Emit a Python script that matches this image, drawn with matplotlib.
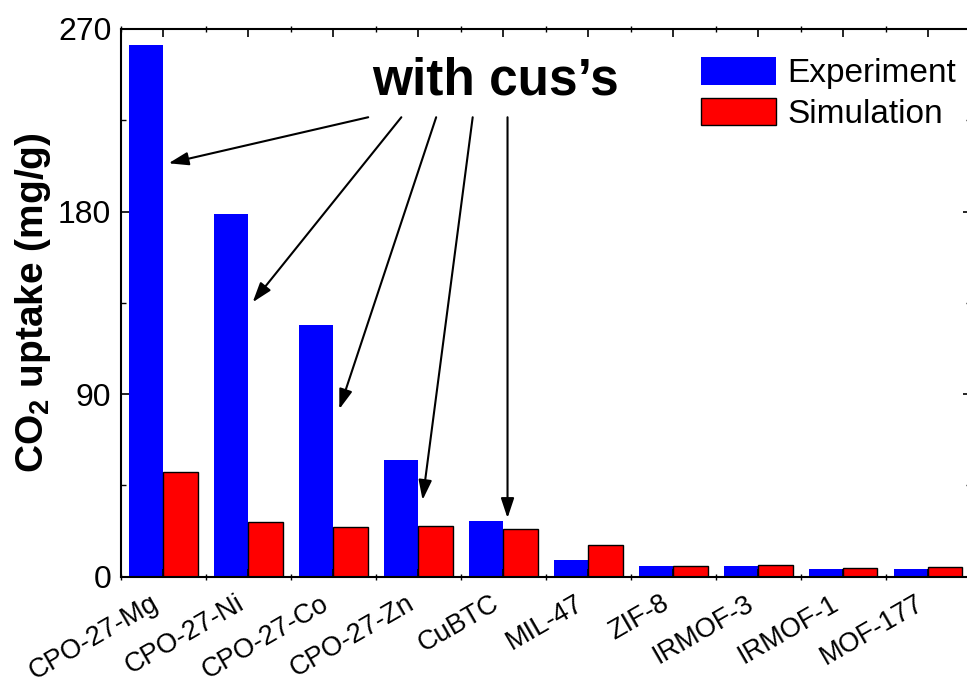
import numpy as np
import matplotlib
matplotlib.use("Agg")
import matplotlib.pyplot as plt
from matplotlib.ticker import MultipleLocator, FixedLocator

plt.rcParams['font.family'] = ['Liberation Sans', 'DejaVu Sans']
plt.rcParams['mathtext.fontset'] = 'custom'
plt.rcParams['mathtext.rm'] = 'Liberation Sans'
plt.rcParams['mathtext.bf'] = 'Liberation Sans:bold'

materials = ['CPO-27-Mg', 'CPO-27-Ni', 'CPO-27-Co', 'CPO-27-Zn', 'CuBTC',
             'MIL-47', 'ZIF-8', 'IRMOF-3', 'IRMOF-1', 'MOF-177']
experiment = [262, 179, 124, 57.5, 27.5, 8.0, 5.5, 5.3, 3.7, 3.7]
simulation = [51.5, 27.0, 24.5, 24.8, 23.7, 15.6, 5.5, 5.8, 4.3, 4.8]
yticks = [0, 90, 180, 270]

# arrows from the "with cus's" note down to the open-metal-site frameworks
arrow_tails = [(2.41, 226.5), (2.80, 226.5), (3.21, 226.5), (3.64, 226.5), (4.05, 226.5)]
arrow_heads = [(0.06, 203.8), (1.05, 135.3), (2.07, 82.6), (3.05, 37.8), (4.05, 28.9)]

fig = plt.figure(figsize=(9.67, 6.84), dpi=100)
ax = fig.add_axes([121/967, 107.3/684, 849.5/967, 547.7/684])

x = np.arange(len(materials))
w = 0.405
ax.bar(x - w/2, experiment, w, color='#0000FF', edgecolor='none', label='Experiment')
ax.bar(x + w/2, simulation, w, color='#FF0000', edgecolor='black', linewidth=1.0,
       label='Simulation')

ax.set_xlim(-0.5, 9.5)
ax.set_ylim(0, 270)
ax.set_yticks(yticks)
ax.yaxis.set_minor_locator(MultipleLocator(45))
ax.set_xticks(x)
ax.set_xticklabels(materials, rotation=30, ha='right', fontsize=19.5)
ax.xaxis.set_minor_locator(FixedLocator(np.arange(-0.5, 10, 1)))

for s in ax.spines.values():
    s.set_linewidth(1.5)
ax.tick_params(axis='y', which='major', direction='in', length=6, width=1.2,
               labelsize=23, pad=7, right=True)
ax.tick_params(axis='y', which='minor', direction='in', length=3.5, width=1.0, right=True)
ax.tick_params(axis='x', which='major', direction='in', length=6, width=1.2,
               pad=10, top=True)
ax.tick_params(axis='x', which='minor', direction='inout', length=4, width=1.0, top=True)

ax.set_ylabel(r'CO$_\mathbf{2}$ uptake (mg/g)', fontsize=28, fontweight='bold')
ax.yaxis.set_label_coords(-0.08, 0.5)

ax.text(3.906, 237.5, 'with cus\u2019s', fontsize=37, fontweight='bold',
        ha='center', va='baseline')
for tail, head in zip(arrow_tails, arrow_heads):
    ax.annotate('', xy=head, xytext=tail,
                arrowprops=dict(arrowstyle='-|>,head_length=0.6,head_width=0.2',
                                color='black', lw=1.5, mutation_scale=20,
                                shrinkA=0, shrinkB=0))

ax.legend(loc='upper left', bbox_to_anchor=(701/967, 1 - 57/684),
          bbox_transform=fig.transFigure, frameon=False, fontsize=24,
          handlelength=2.25, handleheight=0.9, handletextpad=0.35,
          labelspacing=0.25, borderpad=0, borderaxespad=0)

fig.savefig('out.png', dpi=100)
